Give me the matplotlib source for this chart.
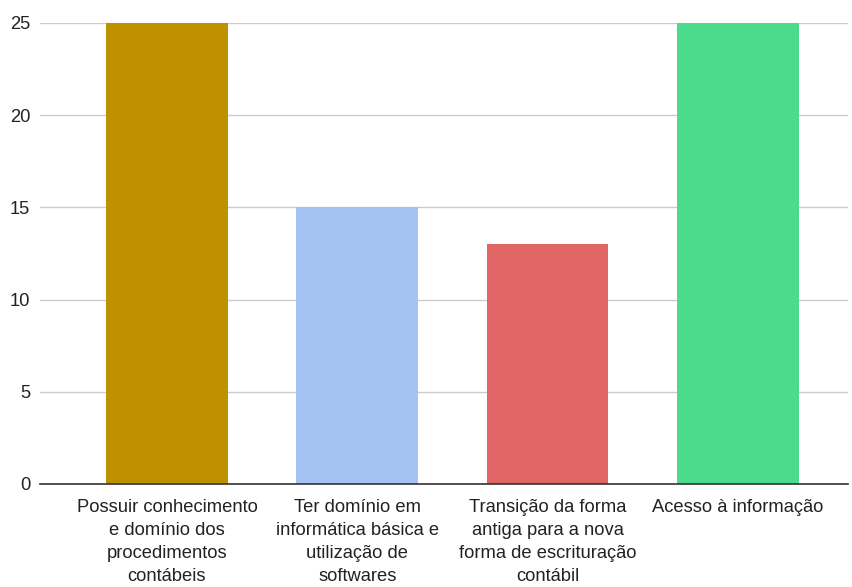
import matplotlib.pyplot as plt
import numpy as np

plt.rcParams['font.family'] = ['Liberation Sans', 'DejaVu Sans']

categorias = [
    'Possuir conhecimento\ne domínio dos\nprocedimentos\ncontábeis',
    'Ter domínio em\ninformática básica e\nutilização de\nsoftwares',
    'Transição da forma\nantiga para a nova\nforma de escrituração\ncontábil',
    'Acesso à informação'
]
valores = [25, 15, 13, 25]
cores = ['#bf9000', '#a4c2f4', '#e06666', '#4cdb8c']

fig = plt.figure(figsize=(8.52, 5.87), dpi=100)
ax = fig.add_axes([0.047, 0.1755, 0.948, 0.7855])

x = np.arange(len(categorias))
ax.bar(x, valores, width=0.64, color=cores, zorder=3)

ax.set_xlim(-0.667, 3.578)
ax.set_ylim(0, 25)
ax.set_yticks([0, 5, 10, 15, 20, 25])
ax.set_xticks(x)
ax.set_xticklabels(categorias, fontsize=13.2, linespacing=1.45, color='#222222')
ax.tick_params(axis='y', labelsize=13.2, length=0, pad=7, labelcolor='#222222')
ax.tick_params(axis='x', length=0, pad=11)

ax.grid(axis='y', color='#cccccc', linewidth=1, zorder=0)
for s in ['top', 'right', 'left']:
    ax.spines[s].set_visible(False)
ax.spines['bottom'].set_color('#333333')
ax.spines['bottom'].set_linewidth(1.2)
ax.spines['bottom'].set_zorder(4)

plt.savefig('out.png', dpi=100)
